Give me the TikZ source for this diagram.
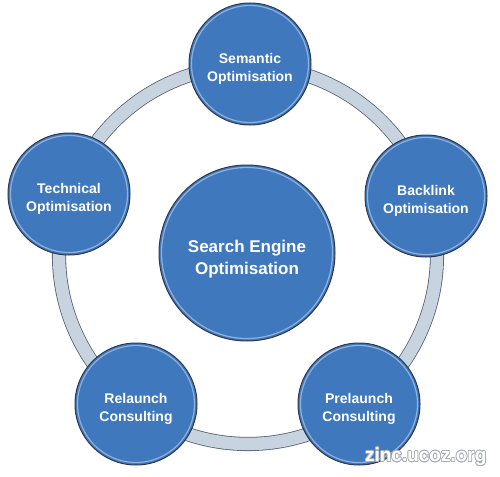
\documentclass[tikz,border=0pt]{standalone}
\usepackage{fontspec}
\setmainfont{Liberation Sans}
\usepackage{xcolor}
\definecolor{SeoBlue}{HTML}{3F78BD}
\definecolor{SeoRim}{HTML}{8FB2DC}
\definecolor{SeoEdge}{HTML}{2B3850}
\definecolor{SeoRing}{HTML}{C8D3E0}
\definecolor{SeoMark}{HTML}{A8ADB6}
\usepackage{contour}
\contourlength{0.7pt}
\usepackage{tikz}
\usetikzlibrary{positioning}
\newcommand{\seolift}{\rule{0pt}{1.4em}}
\tikzset{
  seohub/.style={circle,draw=SeoEdge,line width=1pt,fill=SeoBlue,text=white,align=center,inner sep=0pt,minimum size=176pt,
    font=\bfseries\fontsize{17}{22}\selectfont,
    path picture={\draw[SeoRim,line width=1.2pt] (path picture bounding box.center) circle[radius=85.5pt];}},
  seotopic/.style={circle,draw=SeoEdge,line width=1pt,fill=SeoBlue,text=white,align=center,inner sep=0pt,minimum size=122pt,
    font=\bfseries\fontsize{14}{18}\selectfont,
    path picture={\draw[SeoRim,line width=1.2pt] (path picture bounding box.center) circle[radius=58.5pt];}},
  seoring/.style={draw=SeoEdge!80,line width=0.8pt,double=SeoRing,double distance=12.5pt}
}
\begin{document}
\begin{tikzpicture}[x=1pt,y=-1pt]
  \useasboundingbox (0,0) rectangle (500,476);
  \coordinate (ringc) at (248,255);
  \draw[seoring] (ringc) circle[radius=189];
  \node[seohub] (seo) at (247,253) {\seolift Search Engine\\Optimisation};
  \node[seotopic] (semantic) at (250,64) {\seolift Semantic\\Optimisation};
  \node[seotopic] (backlink) at (426,196) {\seolift Backlink\\Optimisation};
  \node[seotopic] (prelaunch) at (359,404) {\seolift Prelaunch\\Consulting};
  \node[seotopic] (relaunch) at (136,404) {\seolift Relaunch\\Consulting};
  \node[seotopic] (technical) at (69,194) {\seolift Technical\\Optimisation};
  \node[text=white,font=\bfseries\fontsize{19}{22}\selectfont,anchor=east] (mark) at (490,457) {\contour{SeoMark}{zinc.ucoz.org}};
\end{tikzpicture}
\end{document}
